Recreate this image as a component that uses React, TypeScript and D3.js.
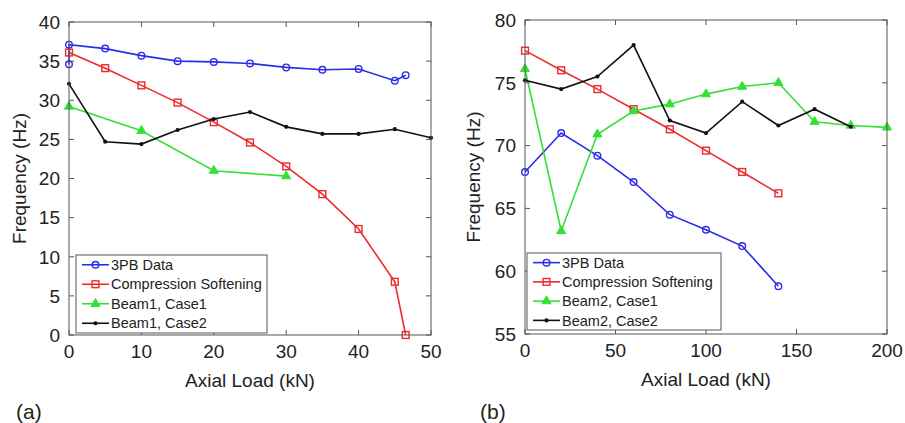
import React from 'react';
import * as d3 from 'd3';

// ---- panel (a) data ----
const a3pbLoad = [0, 0, 5, 10, 15, 20, 25, 30, 35, 40, 45, 46.5];
const a3pbFreq = [34.6, 37.1, 36.6, 35.7, 35.0, 34.9, 34.7, 34.2, 33.9, 34.0, 32.5, 33.2];
const aSoftLoad = [0, 5, 10, 15, 20, 25, 30, 35, 40, 45, 46.5];
const aSoftFreq = [36.1, 34.1, 31.9, 29.7, 27.2, 24.6, 21.55, 18.0, 13.55, 6.8, 0];
const aCase1Load = [0, 10, 20, 30];
const aCase1Freq = [29.2, 26.1, 21.0, 20.3];
const aCase2Load = [0, 5, 10, 15, 20, 25, 30, 35, 40, 45, 50];
const aCase2Freq = [32.1, 24.7, 24.4, 26.2, 27.6, 28.5, 26.6, 25.7, 25.7, 26.3, 25.2];
const aXTicks = [0, 10, 20, 30, 40, 50];
const aYTicks = [0, 5, 10, 15, 20, 25, 30, 35, 40];
const aLegend = ['3PB Data', 'Compression Softening', 'Beam1, Case1', 'Beam1, Case2'];

// ---- panel (b) data ----
const b3pbLoad = [0, 20, 40, 60, 80, 100, 120, 140];
const b3pbFreq = [67.9, 71.0, 69.2, 67.1, 64.5, 63.3, 62.0, 58.8];
const bSoftLoad = [0, 20, 40, 60, 80, 100, 120, 140];
const bSoftFreq = [77.56, 76.0, 74.5, 72.9, 71.3, 69.6, 67.9, 66.2];
const bCase1Load = [0, 20, 40, 60, 80, 100, 120, 140, 160, 180, 200];
const bCase1Freq = [76.1, 63.2, 70.9, 72.75, 73.3, 74.1, 74.7, 75.0, 71.9, 71.6, 71.45];
const bCase2Load = [0, 20, 40, 60, 80, 100, 120, 140, 160, 180];
const bCase2Freq = [75.2, 74.5, 75.5, 78.0, 72.0, 71.0, 73.5, 71.6, 72.9, 71.5];
const bXTicks = [0, 50, 100, 150, 200];
const bYTicks = [55, 60, 65, 70, 75, 80];
const bLegend = ['3PB Data', 'Compression Softening', 'Beam2, Case1', 'Beam2, Case2'];

const colors = ['#2b2bea', '#ec2b2b', '#35e035', '#111111'];
const markers = ['circle', 'square', 'triangle', 'dot'];
const font = '"Liberation Sans", Arial, Helvetica, sans-serif';

function Marker({ type, x, y, color }: { type: string; x: number; y: number; color: string }) {
  if (type === 'circle') return <circle cx={x} cy={y} r={3.3} fill="none" stroke={color} strokeWidth={1.4} />;
  if (type === 'square') return <rect x={x - 3.4} y={y - 3.4} width={6.8} height={6.8} fill="none" stroke={color} strokeWidth={1.4} />;
  if (type === 'triangle') {
    const p = d3.symbol(d3.symbolTriangle, 36)();
    return <path d={p || ''} transform={`translate(${x},${y})`} fill={color} stroke={color} strokeWidth={1} />;
  }
  return <circle cx={x} cy={y} r={2.1} fill={color} />;
}

type Series = { load: number[]; freq: number[] };

function Panel(props: {
  left: number; right: number; top: number; bottom: number;
  xDomain: [number, number]; yDomain: [number, number];
  xTicks: number[]; yTicks: number[];
  series: Series[]; legend: string[];
  legendBox: [number, number, number, number];
  tag: string; tagX: number; yLabelX: number;
}) {
  const { left, right, top, bottom } = props;
  const x = d3.scaleLinear().domain(props.xDomain).range([left, right]);
  const y = d3.scaleLinear().domain(props.yDomain).range([bottom, top]);
  const line = d3.line<[number, number]>().x(d => x(d[0])).y(d => y(d[1]));
  const tickLen = 5;
  const [lx, ly, lw, lh] = props.legendBox;
  const rowH = lh / 4;

  return (
    <g fontFamily={font}>
      {/* series */}
      {props.series.map((s, i) => {
        const pts = s.load.map((l, j) => [l, s.freq[j]] as [number, number]);
        return (
          <g key={i}>
            <path d={line(pts) || ''} fill="none" stroke={colors[i]} strokeWidth={1.6} />
            {pts.map((p, j) => (
              <Marker key={j} type={markers[i]} x={x(p[0])} y={y(p[1])} color={colors[i]} />
            ))}
          </g>
        );
      })}

      {/* axis box and ticks */}
      <rect x={left} y={top} width={right - left} height={bottom - top} fill="none" stroke="#555" strokeWidth={1} />
      {props.xTicks.map(t => (
        <g key={'x' + t}>
          <line x1={x(t)} x2={x(t)} y1={bottom} y2={bottom - tickLen} stroke="#555" />
          <line x1={x(t)} x2={x(t)} y1={top} y2={top + tickLen} stroke="#555" />
          <text x={x(t)} y={bottom + 23} textAnchor="middle" fontSize={19} fill="#222">{t}</text>
        </g>
      ))}
      {props.yTicks.map(t => (
        <g key={'y' + t}>
          <line x1={left} x2={left + tickLen} y1={y(t)} y2={y(t)} stroke="#555" />
          <line x1={right} x2={right - tickLen} y1={y(t)} y2={y(t)} stroke="#555" />
          <text x={left - 9} y={y(t)} dy="0.36em" textAnchor="end" fontSize={19} fill="#222">{t}</text>
        </g>
      ))}

      <text x={(left + right) / 2} y={bottom + 52} textAnchor="middle" fontSize={19} fill="#222">Axial Load (kN)</text>
      <text transform={`translate(${props.yLabelX},${(top + bottom) / 2}) rotate(-90)`} textAnchor="middle" fontSize={19} fill="#222">Frequency (Hz)</text>
      <text x={props.tagX} y={419} fontSize={21} fill="#222">{props.tag}</text>

      {/* legend */}
      <rect x={lx} y={ly} width={lw} height={lh} fill="#fff" stroke="#555" strokeWidth={1} />
      {props.legend.map((name, i) => {
        const cy = ly + rowH * (i + 0.5);
        return (
          <g key={name}>
            <line x1={lx + 6} x2={lx + 33} y1={cy} y2={cy} stroke={colors[i]} strokeWidth={1.6} />
            <Marker type={markers[i]} x={lx + 19.5} y={cy} color={colors[i]} />
            <text x={lx + 35} y={cy} dy="0.36em" fontSize={14.5} fill="#222">{name}</text>
          </g>
        );
      })}
    </g>
  );
}

export default function App() {
  return (
    <svg width={905} height={423} style={{ position: 'absolute', left: 0, top: 0, background: '#fff' }}>
      <rect width={905} height={423} fill="#fff" />
      <Panel
        left={69} right={431} top={22} bottom={335}
        xDomain={[0, 50]} yDomain={[0, 40]}
        xTicks={aXTicks} yTicks={aYTicks}
        series={[
          { load: a3pbLoad, freq: a3pbFreq },
          { load: aSoftLoad, freq: aSoftFreq },
          { load: aCase1Load, freq: aCase1Freq },
          { load: aCase2Load, freq: aCase2Freq },
        ]}
        legend={aLegend}
        legendBox={[76, 255, 191, 78]}
        tag="(a)" tagX={16} yLabelX={26}
      />
      <Panel
        left={525} right={887} top={20} bottom={334}
        xDomain={[0, 200]} yDomain={[55, 80]}
        xTicks={bXTicks} yTicks={bYTicks}
        series={[
          { load: b3pbLoad, freq: b3pbFreq },
          { load: bSoftLoad, freq: bSoftFreq },
          { load: bCase1Load, freq: bCase1Freq },
          { load: bCase2Load, freq: bCase2Freq },
        ]}
        legend={bLegend}
        legendBox={[527, 253, 194, 77]}
        tag="(b)" tagX={480} yLabelX={480}
      />
    </svg>
  );
}
